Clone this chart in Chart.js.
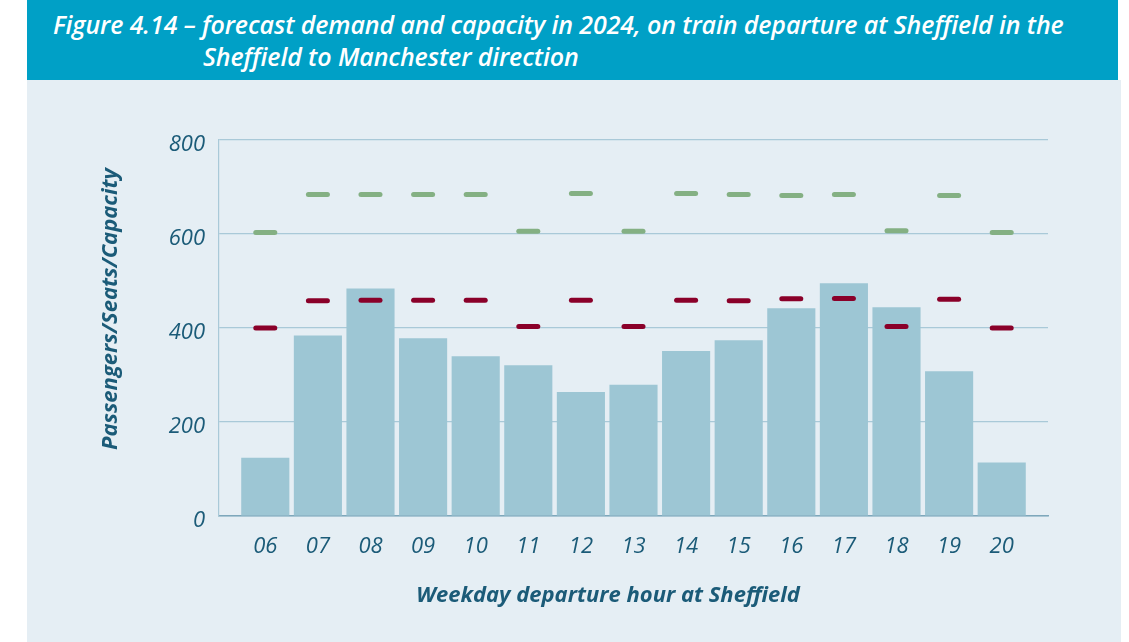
<!DOCTYPE html>
<html>
<head>
<meta charset="utf-8">
<script src="https://cdn.jsdelivr.net/npm/chart.js@4.4.1/dist/chart.umd.min.js"></script>
<style>
  html, body { margin: 0; padding: 0; background: #ffffff; }
  body { width: 1129px; height: 642px; position: relative; overflow: hidden; }
  .header {
    position: absolute; left: 27px; top: 0; width: 1091px; height: 80px;
    background: #00a0c6; color: #ffffff;
    font-family: "Open Sans", sans-serif; font-style: italic; font-weight: 600;
    font-size: 25px; line-height: 30px; letter-spacing: -0.1px;
  }
  .header .l1 { position: absolute; left: 26px; top: 9px; white-space: nowrap; }
  .header .l2 { position: absolute; left: 176px; top: 41px; white-space: nowrap; }
  .panel { position: absolute; left: 27px; top: 80px; width: 1094px; height: 562px; background: #e5eef4; }
  #wrap { position: absolute; left: 0; top: 0; width: 1129px; height: 642px; }
  .axis-title {
    position: absolute; color: #1b5b78; white-space: nowrap;
    font-family: "Open Sans", sans-serif; font-style: italic; font-weight: 700; font-size: 22px;
    line-height: 26px;
  }
  .x-title { left: 408px; top: 580px; width: 400px; text-align: center; }
  .y-title { left: -42px; top: 296px; width: 300px; text-align: center; transform: rotate(-90deg); }
</style>
</head>
<body>
<div class="header">
  <div class="l1">Figure 4.14 – forecast demand and capacity in 2024, on train departure at Sheffield in the</div>
  <div class="l2">Sheffield to Manchester direction</div>
</div>
<div class="panel"></div>
<div id="wrap"><canvas id="chart" width="1129" height="642"></canvas></div>
<div class="axis-title x-title">Weekday departure hour at Sheffield</div>
<div class="axis-title y-title">Passengers/Seats/Capacity</div>
<script>
// weekday departure hours at Sheffield
const hours = ['06', '07', '08', '09', '10', '11', '12', '13', '14', '15', '16', '17', '18', '19', '20'];
// forecast passengers (bars)
const demand = [124, 384, 484, 378, 340, 321, 264, 279, 351, 374, 442, 495, 444, 308, 114];
// seats (red dashes)
const seats = [400, 458, 459, 459, 459, 403, 459, 403, 459, 458, 462, 463, 403, 461, 400];
// capacity (green dashes)
const capacity = [603, 684, 684, 684, 684, 606, 686, 606, 686, 684, 682, 684, 607, 682, 603];
const yTicks = [0, 200, 400, 600, 800];

const textColor = '#1b5b78';
const gridColor = '#a9c9d8';

const toPoints = arr => arr.map((v, i) => ({ x: i, y: v }));

// round the ends of the dash markers
const roundCaps = {
  id: 'roundCaps',
  beforeDatasetsDraw(chart) {
    chart.ctx.lineCap = 'round';
  }
};

new Chart(document.getElementById('chart'), {
  type: 'bar',
  data: {
    datasets: [
      {
        label: 'Capacity',
        type: 'line',
        data: toPoints(capacity),
        showLine: false,
        pointStyle: 'line',
        pointRadius: 9.5,
        pointBorderWidth: 5,
        pointBorderColor: '#84b083',
        pointBackgroundColor: '#84b083',
        order: 1
      },
      {
        label: 'Seats',
        type: 'line',
        data: toPoints(seats),
        showLine: false,
        pointStyle: 'line',
        pointRadius: 9.5,
        pointBorderWidth: 5,
        pointBorderColor: '#8a0029',
        pointBackgroundColor: '#8a0029',
        order: 1
      },
      {
        label: 'Passengers',
        data: toPoints(demand),
        backgroundColor: '#9dc6d4',
        barPercentage: 0.915,
        categoryPercentage: 1,
        order: 2
      }
    ]
  },
  options: {
    responsive: false,
    animation: false,
    layout: { padding: { left: 94, right: 81, top: 140, bottom: 20 } },
    plugins: {
      legend: { display: false },
      tooltip: { enabled: false }
    },
    scales: {
      x: {
        type: 'linear',
        offset: false,
        min: -0.88,
        max: 14.88,
        grid: { display: false },
        border: { display: true, color: '#7ea7bb', width: 1.5 },
        ticks: {
          stepSize: 1,
          includeBounds: false,
          autoSkip: false,
          maxRotation: 0,
          padding: 10,
          color: textColor,
          font: { family: 'Open Sans', style: 'italic', size: 22 },
          callback: v => hours[v] ?? ''
        },
        afterFit(scale) { scale.height = 106; }
      },
      y: {
        min: 0,
        max: 800,
        afterBuildTicks(scale) { scale.ticks = yTicks.map(v => ({ value: v })); },
        grid: { color: gridColor, lineWidth: 1.2, drawTicks: false },
        border: { display: true, color: gridColor, width: 1.2 },
        ticks: {
          padding: 14,
          labelOffset: 5,
          color: textColor,
          font: { family: 'Open Sans', style: 'italic', size: 22 }
        },
        afterFit(scale) { scale.width = 125; }
      }
    }
  },
  plugins: [roundCaps]
});
</script>
</body>
</html>
